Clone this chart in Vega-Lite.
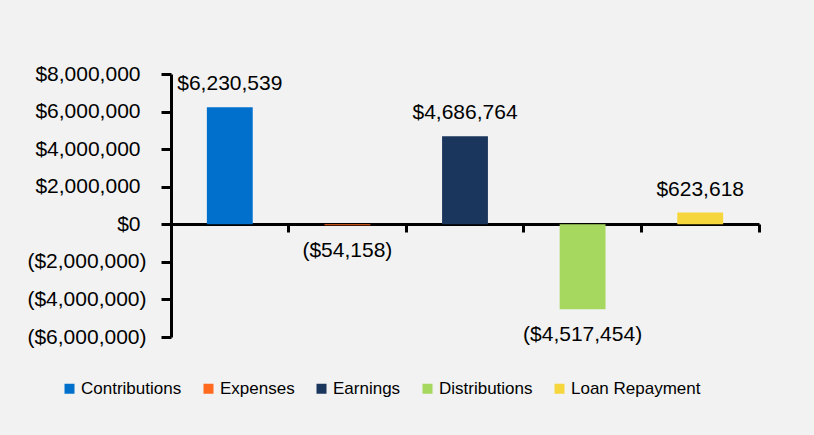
{
  "$schema": "https://vega.github.io/schema/vega-lite/v6.json",
  "width": 588,
  "height": 263,
  "autosize": {"type": "none"},
  "padding": {"left": 171, "top": 74, "right": 55, "bottom": 98},
  "background": "#F2F2F2",
  "config": {"view": {"stroke": null}, "font": "Liberation Sans"},
  "data": {
    "values": [
      {"category": "Contributions", "value": 6230539},
      {"category": "Expenses", "value": -54158},
      {"category": "Earnings", "value": 4686764},
      {"category": "Distributions", "value": -4517454},
      {"category": "Loan Repayment", "value": 623618}
    ]
  },
  "encoding": {
    "x": {
      "field": "category",
      "type": "nominal",
      "sort": null,
      "scale": {"paddingInner": 0, "paddingOuter": 0},
      "axis": {
        "title": null,
        "labels": false,
        "offset": -113,
        "bandPosition": 1,
        "domainColor": "black",
        "domainWidth": 3,
        "tickColor": "black",
        "tickWidth": 3,
        "tickSize": 8,
        "grid": false
      }
    },
    "y": {
      "field": "value",
      "type": "quantitative",
      "scale": {"domain": [-6000000, 8000000], "nice": false, "zero": false},
      "axis": {
        "title": null,
        "values": [-6000000, -4000000, -2000000, 0, 2000000, 4000000, 6000000, 8000000],
        "labelExpr": "datum.value < 0 ? '($' + format(-datum.value, ',') + ')' : '$' + format(datum.value, ',')",
        "labelFont": "Liberation Sans",
        "labelFontSize": 21,
        "labelColor": "black",
        "labelPadding": {"condition": {"test": "datum.value >= 0", "value": 21}, "value": 15},
        "tickSize": 10,
        "tickWidth": 3,
        "tickColor": "black",
        "domainColor": "black",
        "domainWidth": 3,
        "grid": false
      }
    }
  },
  "layer": [
    {
      "mark": {"type": "bar", "width": {"band": 0.39}},
      "encoding": {
        "y2": {"datum": 0},
        "color": {
          "field": "category",
          "type": "nominal",
          "scale": {
            "domain": ["Contributions", "Expenses", "Earnings", "Distributions", "Loan Repayment"],
            "range": ["#0070CC", "#FF6A1F", "#1B365D", "#A6D75F", "#F5D63D"]
          },
          "legend": {
            "title": null,
            "orient": "none",
            "legendX": -110,
            "legendY": 306,
            "direction": "horizontal",
            "symbolType": "square",
            "symbolSize": 100,
            "symbolStrokeWidth": 0,
            "labelFont": "Liberation Sans",
            "labelFontSize": 17,
            "labelColor": "black",
            "labelOffset": 3,
            "columnPadding": 18
          }
        }
      }
    },
    {
      "transform": [{"filter": "datum.value >= 0"}],
      "mark": {"type": "text", "baseline": "middle", "dy": -23, "fontSize": 21, "font": "Liberation Sans", "color": "black"},
      "encoding": {"text": {"field": "value", "type": "quantitative", "format": "($,.0f"}}
    },
    {
      "transform": [{"filter": "datum.value < 0"}],
      "mark": {"type": "text", "baseline": "middle", "dy": 26, "fontSize": 21, "font": "Liberation Sans", "color": "black"},
      "encoding": {"text": {"field": "value", "type": "quantitative", "format": "($,.0f"}}
    }
  ]
}
